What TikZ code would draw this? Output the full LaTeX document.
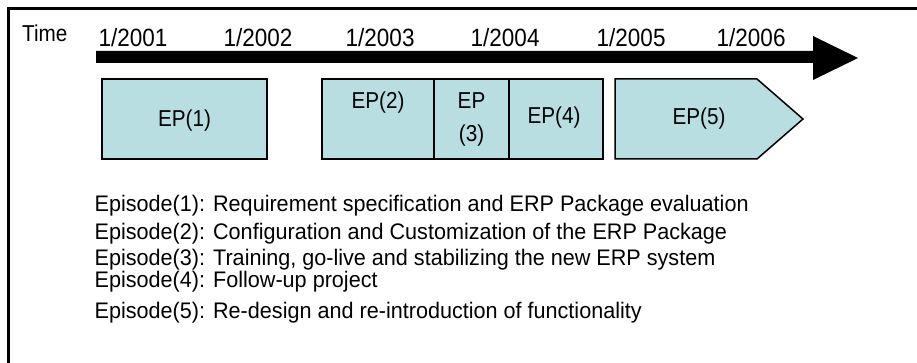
\documentclass[tikz,border=0pt]{standalone}
\usepackage{fontspec}
\setmainfont{Liberation Sans}
\newfontfamily\narfont{Liberation Sans}[FakeStretch=0.9]
\newfontfamily\descfont{Liberation Sans}[FakeStretch=0.96]
\definecolor{epfill}{RGB}{184,222,226}
\tikzset{
  epbox/.style={draw=black, line width=1.5pt, fill=epfill, inner sep=0pt, outer sep=0pt},
  eplabel/.style={font=\narfont\fontsize{23}{33}\selectfont, inner sep=0pt, anchor=base, align=center},
  datelabel/.style={font=\narfont\fontsize{25}{30}\selectfont, inner sep=0pt, anchor=base west},
  desc/.style={font=\descfont\fontsize{22.5}{27}\selectfont, inner sep=0pt, anchor=base west}
}
\begin{document}
\begin{tikzpicture}[x=1pt,y=-1pt]
\useasboundingbox (0,0) rectangle (917,363);
\clip (0,0) rectangle (917,363);
% outer frame (cropped on right and bottom)
\draw[line width=2.5pt] (8.5,380) -- (8.5,8.5) -- (930,8.5);
% time arrow
\fill[black] (96,51) -- (813,51) -- (813,36) -- (858,58) -- (813,80) -- (813,63) -- (96,63) -- cycle;
% labels
\node[font=\narfont\fontsize{23}{28}\selectfont, inner sep=0pt, anchor=base west] (time) at (22,41.7) {Time};
\node[datelabel] (d1) at (98.5,46.7) {1/2001};
\node[datelabel] (d2) at (223.5,46.7) {1/2002};
\node[datelabel] (d3) at (345.5,46.7) {1/2003};
\node[datelabel] (d4) at (470.5,46.7) {1/2004};
\node[datelabel] (d5) at (596.5,46.7) {1/2005};
\node[datelabel] (d6) at (716.5,46.7) {1/2006};
% episode boxes
\node[epbox, minimum width=165pt, minimum height=80pt] (ep1) at (184.5,119) {};
\node[epbox, minimum width=112pt, minimum height=80pt] (ep2) at (378,119) {};
\node[epbox, minimum width=75pt, minimum height=80pt] (ep3) at (471.5,119) {};
\node[epbox, minimum width=94pt, minimum height=80pt] (ep4) at (556,119) {};
\draw[epbox] (615,79) -- (757,79) -- (803,119) -- (757,159) -- (615,159) -- cycle;
\node[eplabel] (l1) at (184.5,127) {EP(1)};
\node[eplabel] (l2) at (378,109) {EP(2)};
\node[eplabel] (l3) at (471.5,141.5) {EP\\(3)};
\node[eplabel] (l4) at (554,124) {EP(4)};
\node[eplabel] (l5) at (699,125) {EP(5)};
% descriptions
\node[desc] (e1) at (94.5,212) {Episode(1): Requirement specification and ERP Package evaluation};
\node[desc] (e2) at (94.5,240) {Episode(2): Configuration and Customization of the ERP Package};
\node[desc] (e3) at (94.5,265.5) {Episode(3): Training, go-live and stabilizing the new ERP system};
\node[desc] (e4) at (94.5,287) {Episode(4): Follow-up project};
\node[desc] (e5) at (94.5,318) {Episode(5): Re-design and re-introduction of functionality};
\end{tikzpicture}
\end{document}
